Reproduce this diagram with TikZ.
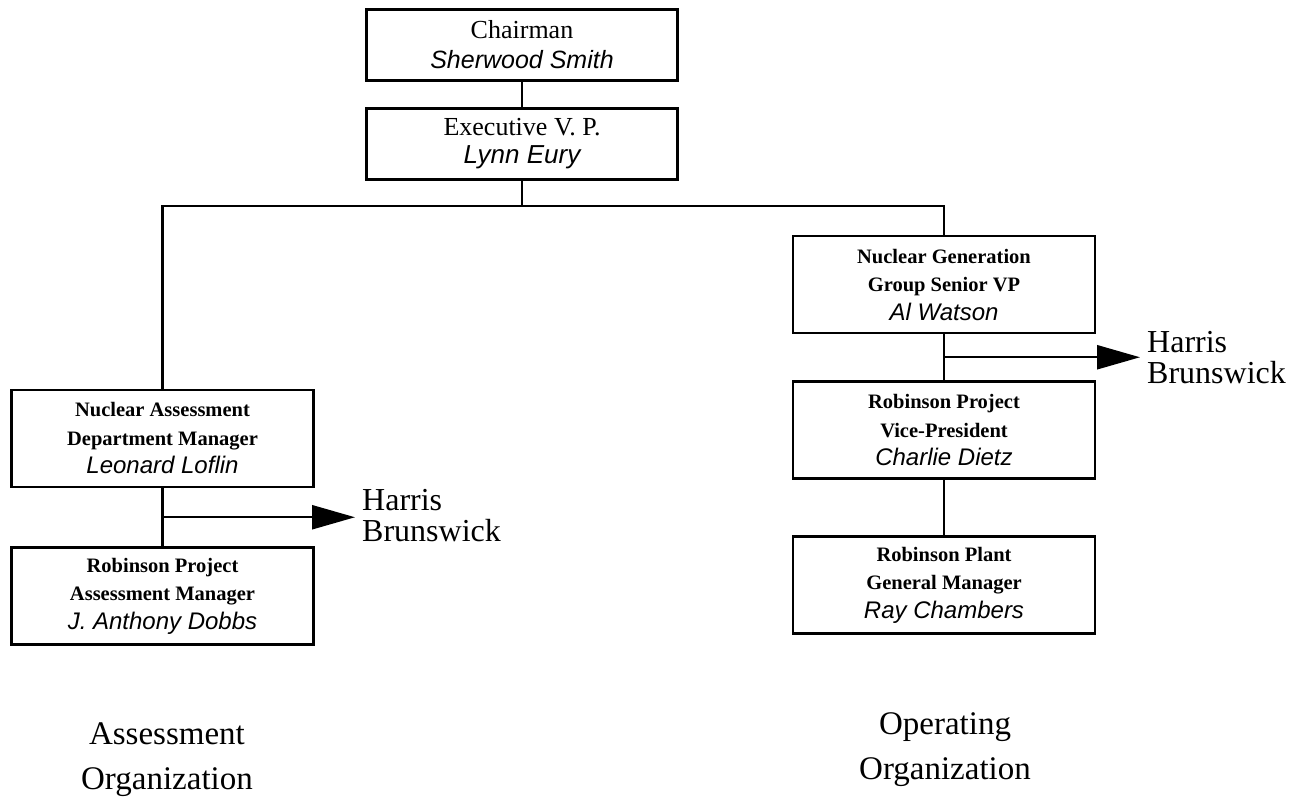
\documentclass[tikz,border=0pt]{standalone}
\usepackage{fontspec}
\setmainfont{Liberation Serif}
\newfontfamily\hv{Liberation Sans}
\usetikzlibrary{arrows.meta,calc}
\tikzset{
  bigbox/.style={draw, line width=2.6pt, minimum width=311pt, minimum height=71pt, inner sep=0pt, align=center},
  smallbox/.style={draw, line width=2.6pt, minimum width=302pt, minimum height=97pt, inner sep=0pt, align=center,
    font=\bfseries\fontsize{20.5}{28.5}\selectfont},
  conn/.style={line width=2.4pt},
  sidearrow/.style={line width=2.4pt, -{Triangle[length=43pt,width=24pt]}, shorten >=7pt},
  sidelabel/.style={inner sep=0pt, anchor=west, align=left, font=\fontsize{32}{31}\selectfont},
  orglabel/.style={inner sep=0pt, align=center, font=\fontsize{33}{45}\selectfont}
}
\newcommand{\nm}[2]{{\hv\itshape\mdseries\fontsize{#1}{28.5}\selectfont #2}}
\begin{document}
\begin{tikzpicture}[x=1pt,y=-1pt]
\useasboundingbox (0,0) rectangle (1316,798);
% top boxes
\node[bigbox, font=\fontsize{26}{30}\selectfont] (chair) at (522,45) {Chairman\\\nm{25}{Sherwood Smith}};
\node[bigbox, font=\fontsize{26}{28}\selectfont] (vp) at (522,144) {Executive V. P.\\\nm{26}{Lynn Eury}};
% left column
\node[smallbox] (nam) at (162.5,438.5) {Nuclear Assessment\\Department Manager\\\nm{24}{Leonard Loflin}};
\node[smallbox] (rpam) at (162.5,596) {Robinson Project\\Assessment Manager\\\nm{24}{J. Anthony Dobbs}};
% right column
\node[smallbox] (ngen) at (944,284.5) {Nuclear Generation\\Group Senior VP\\\nm{24}{Al Watson}};
\node[smallbox] (rpvp) at (944,430) {Robinson Project\\Vice-President\\\nm{24}{Charlie Dietz}};
\node[smallbox] (rplant) at (944,585) {Robinson Plant\\General Manager\\\nm{24}{Ray Chambers}};
% side labels
\node[sidelabel] (hb1) at (362,516) {Harris\\Brunswick};
\node[sidelabel] (hb2) at (1147,358) {Harris\\Brunswick};
% organisation labels
\node[orglabel] (aorg) at (167,760) {Assessment\\Organization};
\node[orglabel] (oorg) at (945,750) {Operating\\Organization};
% connectors
\draw[conn] (chair.south) -- (vp.north);
\coordinate (bus) at ($(vp.south)+(0,25)$);
\draw[conn] (vp.south) -- (bus) -| (nam.north);
\draw[conn] (bus) -| (ngen.north);
\draw[conn] (nam.south) -- (rpam.north);
\coordinate (j1) at ($(nam.south)!0.5!(rpam.north)$);
\draw[sidearrow] (j1) -- (j1 -| hb1.west);
\draw[conn] (ngen.south) -- (rpvp.north);
\coordinate (j2) at ($(ngen.south)!0.5!(rpvp.north)$);
\draw[sidearrow] (j2) -- (j2 -| hb2.west);
\draw[conn] (rpvp.south) -- (rplant.north);
\end{tikzpicture}
\end{document}
